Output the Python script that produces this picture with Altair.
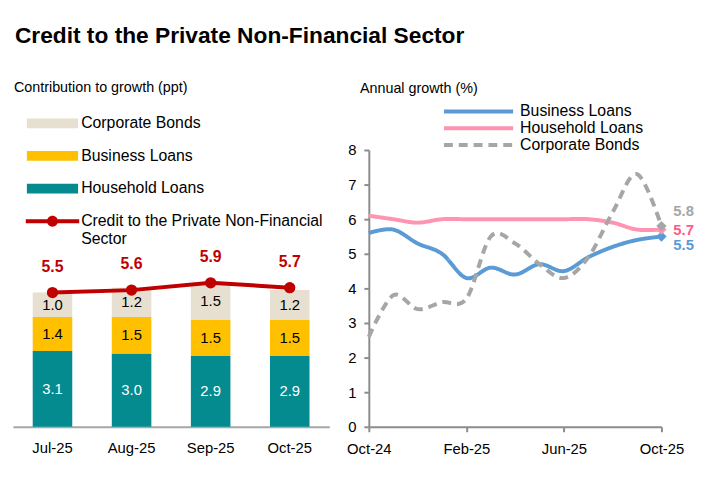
import altair as alt
import pandas as pd

FONT = "Liberation Sans"

# ---- left panel data: contribution to growth (ppt) ----
bar_months = ["Jul-25", "Aug-25", "Sep-25", "Oct-25"]
household_ppt = [3.1, 3.0, 2.9, 2.9]
business_ppt = [1.4, 1.5, 1.5, 1.5]
bonds_ppt = [1.0, 1.2, 1.5, 1.2]
total_growth = [5.5, 5.6, 5.9, 5.7]
total_name = "Credit to the Private Non-Financial Sector"

stack_order = ["Household Loans", "Business Loans", "Corporate Bonds"]
legend_series = ["Corporate Bonds", "Business Loans", "Household Loans"]
legend_colors = ["#E7DFCF", "#FFC000", "#048B8F"]

# ---- right panel data: annual growth (%) ----
line_months = ["Oct-24", "Nov-24", "Dec-24", "Jan-25", "Feb-25", "Mar-25", "Apr-25",
               "May-25", "Jun-25", "Jul-25", "Aug-25", "Sep-25", "Oct-25"]
business_growth = [5.6, 5.7, 5.3, 5.0, 4.3, 4.6, 4.4, 4.7, 4.5, 4.9, 5.2, 5.4, 5.5]
household_growth = [6.1, 6.0, 5.9, 6.0, 6.0, 6.0, 6.0, 6.0, 6.0, 6.0, 5.9, 5.7, 5.7]
bonds_growth = [2.6, 3.8, 3.4, 3.6, 3.7, 5.5, 5.3, 4.7, 4.3, 4.9, 6.2, 7.3, 5.8]
axis_months = ["Oct-24", "Feb-25", "Jun-25", "Oct-25"]
line_series = ["Business Loans", "Household Loans", "Corporate Bonds"]
line_colors = ["#5B9BD5", "#FF94B2", "#A6A6A6"]
end_label_colors = ["#5B9BD5", "#FF5C8A", "#A6A6A6"]

# ---- tables ----
bar_rows = []
for s, vals in zip(stack_order, [household_ppt, business_ppt, bonds_ppt]):
    for m, v in zip(bar_months, vals):
        bar_rows.append({"month": m, "series": s, "value": v})
bar_df = pd.DataFrame(bar_rows)
tot_df = pd.DataFrame({"month": bar_months, "total": total_growth, "lbl": [total_name] * len(bar_months)})

line_rows = []
for s, vals in zip(line_series, [business_growth, household_growth, bonds_growth]):
    for m, v in zip(line_months, vals):
        line_rows.append({"month": m, "series": s, "value": v})
line_df = pd.DataFrame(line_rows)

NO_FRAME = alt.ViewBackground(stroke="transparent", strokeWidth=0)

# ---- left panel ----
AX_GRAY = "#8C8C8C"
yl_scale = alt.Scale(domain=[0, 11.34], nice=False, zero=True)
xl = alt.X("month:N", sort=bar_months,
           scale=alt.Scale(paddingInner=0.5, paddingOuter=0.25),
           axis=alt.Axis(title=None, labelAngle=0, ticks=False, grid=False, domainColor="#A6A6A6",
                         domainWidth=2, labelFontSize=15, labelPadding=14, labelColor="#000000"))

base_l = alt.Chart(bar_df).transform_calculate(
    ord="indexof(['Household Loans','Business Loans','Corporate Bonds'], datum.series)"
).transform_stack(
    stack="value", groupby=["month"], sort=[alt.SortField("ord", "ascending")], as_=["y0", "y1"]
).transform_calculate(mid="(datum.y0 + datum.y1) / 2")

bars = base_l.mark_bar().encode(
    x=xl,
    y=alt.Y("y0:Q", scale=yl_scale, axis=None),
    y2="y1:Q",
    color=alt.Color("series:N", scale=alt.Scale(domain=legend_series, range=legend_colors),
                    legend=alt.Legend(orient="none", legendX=32, legendY=-35, title=None,
                                      symbolType="M-3.7,-0.7L3.7,-0.7L3.7,0.7L-3.7,0.7Z",
                                      symbolSize=196, symbolStrokeWidth=0, labelFontSize=16,
                                      labelOffset=21, rowPadding=17, padding=0,
                                      labelColor="#000000", labelLimit=400)),
)
bar_text = base_l.mark_text(fontSize=15, font=FONT).encode(
    x=xl,
    y=alt.Y("mid:Q", scale=yl_scale),
    text=alt.Text("value:Q", format=".1f"),
    color=alt.condition("datum.series == 'Household Loans'", alt.value("#FFFFFF"), alt.value("#000000")),
)
tot_line = alt.Chart(tot_df).mark_line(color="#C00000", strokeWidth=4).encode(
    x=xl, y=alt.Y("total:Q", scale=yl_scale))
tot_pts = alt.Chart(tot_df).mark_point(filled=True, size=130, opacity=1).encode(
    x=xl, y=alt.Y("total:Q", scale=yl_scale),
    fill=alt.Fill("lbl:N", scale=alt.Scale(range=["#C00000"]),
                  legend=alt.Legend(orient="none", legendX=32, legendY=64, title=None,
                                    symbolType="M-3.86,-0.29L3.86,-0.29L3.86,0.29L-3.86,0.29Z M-0.79,0A0.79,0.79,0,1,1,0.79,0A0.79,0.79,0,1,1,-0.79,0Z",
                                    symbolSize=196, symbolStrokeWidth=0, labelFontSize=16,
                                    labelOffset=21, padding=0, labelColor="#000000", labelLimit=400,
                                    labelExpr="['Credit to the Private Non-Financial', 'Sector']")),
)
tot_text = alt.Chart(tot_df).mark_text(fontSize=16, fontWeight="bold", color="#C00000", dy=-26, font=FONT).encode(
    x=xl, y=alt.Y("total:Q", scale=yl_scale), text=alt.Text("total:Q", format=".1f"))

left = alt.layer(bars, bar_text, tot_line, tot_pts, tot_text).properties(
    width=320, height=280, view=NO_FRAME,
    title=alt.Title("Contribution to growth (ppt)", anchor="start", frame="group", dx=1,
                    fontSize=14.5, fontWeight="normal", font=FONT, offset=20,
                    color="#000000"),
)

# ---- right panel ----
xr = alt.X("month:O", sort=line_months, scale=alt.Scale(type="point", padding=0),
           axis=alt.Axis(values=axis_months, labelAngle=0, title=None, tickSize=5, grid=False,
                         domainColor=AX_GRAY, tickColor=AX_GRAY, domainWidth=2, tickWidth=2,
                         labelPadding=10, labelFontSize=15, labelColor="#000000"))
yr_scale = alt.Scale(domain=[0, 8], nice=False)
yr = alt.Y("value:Q", scale=yr_scale,
           axis=alt.Axis(values=list(range(0, 9)), grid=False, title=None, tickSize=5,
                         domainColor=AX_GRAY, tickColor=AX_GRAY, domainWidth=2, tickWidth=2,
                         labelPadding=8, labelFontSize=15, labelColor="#000000"))

right_legend = alt.Legend(orient="none", legendX=102, legendY=-48, title=None,
                          symbolType="M-5,0L5,0", symbolSize=196, symbolStrokeWidth=4,
                          labelFontSize=16, labelOffset=33, rowPadding=0, padding=0,
                          labelColor="#000000", labelLimit=400)
lines = alt.Chart(line_df).mark_line(interpolate="cardinal", tension=0, strokeWidth=4).encode(
    x=xr, y=yr,
    color=alt.Color("series:N", scale=alt.Scale(domain=line_series, range=line_colors), legend=right_legend),
    strokeDash=alt.StrokeDash("series:N", scale=alt.Scale(domain=line_series, range=[[1, 0], [1, 0], [9, 6]]),
                              legend=right_legend),
)
end_df_filter = "datum.month == 'Oct-25'"
end_pts = alt.Chart(line_df).transform_filter(end_df_filter).mark_point(
    shape="diamond", filled=True, size=110, opacity=1).encode(
    x=xr, y=yr,
    color=alt.Color("series:N", scale=alt.Scale(domain=line_series, range=line_colors), legend=None),
)
end_layers = []
for s, c, dy in zip(line_series, end_label_colors, [9, 0, -15]):
    end_layers.append(
        alt.Chart(line_df).transform_filter(end_df_filter).transform_filter(
            alt.datum.series == s).mark_text(
            align="left", dx=12, dy=dy, fontSize=15, fontWeight="bold", color=c, font=FONT).encode(
            x=xr, y=yr, text=alt.Text("value:Q", format=".1f"))
    )

right = alt.layer(lines, end_pts, *end_layers).properties(
    width=296, height=280, view=NO_FRAME,
    title=alt.Title("Annual growth (%)", anchor="start", frame="group", dx=-9,
                    fontSize=14.5, fontWeight="normal", font=FONT, offset=6,
                    color="#000000"),
)

chart = alt.hconcat(left, right, spacing=40, bounds="flush").resolve_scale(
    color="independent", strokeDash="independent", fill="independent"
).resolve_legend(color="independent").properties(
    title=alt.Title("Credit to the Private Non-Financial Sector", anchor="start", dx=2,
                    fontSize=23, fontWeight="bold", font=FONT, offset=33, color="#000000"),
    padding={"left": 5, "top": 14, "right": 5, "bottom": 5},
    background="#FFFFFF",
).configure_view(stroke="transparent", strokeWidth=0).configure_axis(grid=False).configure(font=FONT)

chart.save("out.html", embed_options={"renderer": "svg", "actions": False})
